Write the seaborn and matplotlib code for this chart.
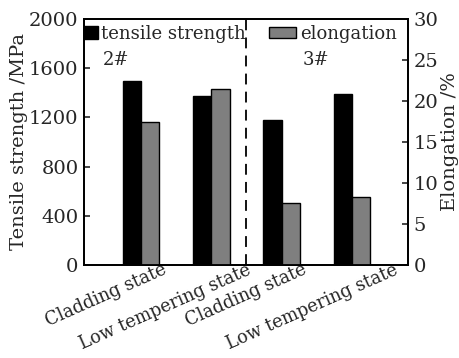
import numpy as np
import pandas as pd
import seaborn as sns
import matplotlib.pyplot as plt
import matplotlib.transforms as mtransforms
from matplotlib.patches import Patch

# data
groups = ["2# Cladding", "2# Low tempering", "3# Cladding", "3# Low tempering"]
tick_labels = ["Cladding state", "Low tempering state", "Cladding state", "Low tempering state"]
tensile_strength = [1495, 1375, 1180, 1390]   # MPa
elongation = [17.4, 21.4, 7.6, 8.3]           # %

series_order = ["tensile strength", "elongation"]

sns.set_theme(style="white")
plt.rcParams["font.family"] = ["DejaVu Serif"]

df = pd.DataFrame({
    "group": groups * 2,
    "series": ["tensile strength"] * 4 + ["elongation"] * 4,
    "strength": tensile_strength + [np.nan] * 4,
    "elong": [np.nan] * 4 + elongation,
})

fig = plt.figure(figsize=(4.59, 3.58), dpi=100)
ax = fig.add_axes([0.183, 0.260, 0.706, 0.687])
ax2 = ax.twinx()

palette = {"tensile strength": "black", "elongation": "#7f7f7f"}
sns.barplot(data=df, x="group", y="strength", hue="series", order=groups,
            hue_order=series_order, palette=palette, width=0.52, dodge=True,
            edgecolor="black", linewidth=1.0, saturation=1, errorbar=None,
            legend=False, ax=ax)
sns.barplot(data=df, x="group", y="elong", hue="series", order=groups,
            hue_order=series_order, palette=palette, width=0.52, dodge=True,
            edgecolor="black", linewidth=1.0, saturation=1, errorbar=None,
            legend=False, ax=ax2)

ax.set_xlim(-0.81, 3.8)
ax.set_ylim(0, 2000)
ax2.set_ylim(0, 30)
ax.set_yticks(range(0, 2001, 400))
ax2.set_yticks(range(0, 31, 5))

ax.set_ylabel("Tensile strength /MPa", fontsize=14, labelpad=1)
ax2.set_ylabel("Elongation /%", fontsize=14, labelpad=2)
ax.set_xlabel("")
ax2.set_xlabel("")

ax.tick_params(axis="y", direction="in", length=4, width=1.2, labelsize=14, pad=4,
               left=True, right=False)
ax2.tick_params(axis="y", direction="in", length=4, width=1.2, labelsize=14, pad=4,
                right=True, left=False)
ax.tick_params(axis="x", direction="in", length=3, width=1.2, bottom=True)

ax.set_xticks(range(len(groups)))
ax.set_xticklabels(tick_labels, rotation=24, ha="right", va="top",
                   rotation_mode="anchor", fontsize=12.8)
# labels are staggered in the original, shift each one a little
shifts_px = [21, 35, 20, 42]
for lab, dx in zip(ax.get_xticklabels(), shifts_px):
    lab.set_transform(lab.get_transform() +
                      mtransforms.ScaledTranslation(dx / 100, 0.09, fig.dpi_scale_trans))

for a in (ax, ax2):
    for sp in a.spines.values():
        sp.set_color("black")
        sp.set_linewidth(1.3)

ax.axvline(1.5, color="black", linestyle=(0, (6, 4)), linewidth=1.3)

leg1 = ax2.legend(handles=[Patch(facecolor="black", edgecolor="black")],
                  labels=["tensile strength"], loc="upper left",
                  bbox_to_anchor=(0.0, 0.975), frameon=False, fontsize=13,
                  handlelength=0.8, handleheight=0.75, handletextpad=0.15,
                  borderpad=0, borderaxespad=0)
ax2.add_artist(leg1)
ax2.legend(handles=[Patch(facecolor="#7f7f7f", edgecolor="black")],
           labels=["elongation"], loc="upper left",
           bbox_to_anchor=(0.57, 0.975), frameon=False, fontsize=13,
           handlelength=1.5, handleheight=0.6, handletextpad=0.25,
           borderpad=0, borderaxespad=0)

ax2.text(0.059, 0.835, "2#", transform=ax.transAxes, fontsize=13, va="center", ha="left")
ax2.text(0.675, 0.835, "3#", transform=ax.transAxes, fontsize=13, va="center", ha="left")

fig.savefig("out.png", dpi=100)
